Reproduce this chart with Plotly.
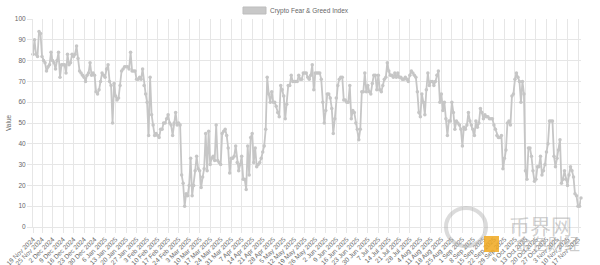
import pandas as pd
import plotly.graph_objects as go

# ---- data ----
series_name = "Crypto Fear & Greed Index"
start_date = "2024-11-19"
fear_greed_values = [
    83, 90, 83, 82, 94, 93, 82, 80, 79, 75,
    77, 78, 84, 80, 79, 76, 80, 84, 72, 78,
    78, 78, 74, 83, 78, 79, 83, 82, 83, 87,
    81, 75, 74, 73, 72, 70, 73, 74, 79, 73,
    74, 73, 65, 64, 66, 70, 74, 73, 72, 76,
    78, 70, 68, 50, 69, 63, 61, 62, 68, 75,
    76, 77, 77, 77, 76, 84, 75, 75, 75, 71,
    71, 72, 71, 76, 68, 64, 60, 44, 72, 54,
    49, 44, 45, 44, 43, 47, 47, 50, 50, 52,
    54, 50, 49, 44, 50, 55, 49, 50, 49, 25,
    21, 10, 16, 15, 20, 33, 15, 20, 27, 34,
    28, 27, 19, 24, 28, 45, 27, 46, 30, 33,
    34, 32, 49, 32, 31, 30, 45, 46, 47, 44,
    38, 26, 33, 33, 34, 39, 31, 27, 30, 34,
    23, 23, 18, 39, 25, 43, 45, 31, 38, 29,
    30, 31, 33, 36, 39, 47, 72, 64, 60, 65,
    60, 60, 58, 55, 53, 68, 66, 63, 52, 59,
    68, 68, 73, 70, 70, 70, 70, 73, 71, 71,
    74, 74, 74, 72, 71, 73, 78, 66, 74, 74,
    74, 74, 71, 60, 50, 56, 64, 64, 62, 57,
    45, 52, 62, 68, 71, 72, 72, 61, 61, 60,
    60, 68, 52, 56, 55, 50, 47, 42, 47, 65,
    65, 74, 65, 68, 65, 64, 69, 73, 73, 66,
    73, 66, 65, 68, 71, 72, 79, 75, 73, 73,
    72, 74, 72, 74, 72, 72, 71, 71, 72, 71,
    70, 73, 75, 74, 73, 72, 65, 55, 53, 64,
    60, 54, 66, 74, 68, 70, 70, 68, 70, 73,
    75, 60, 64, 56, 60, 52, 44, 51, 51, 60,
    55, 47, 51, 50, 49, 47, 39, 48, 47, 49,
    55, 51, 49, 47, 44, 51, 48, 50, 57, 55,
    52, 54, 53, 53, 52, 52, 52, 49, 47, 44,
    43, 43, 44, 28, 33, 37, 50, 51, 49, 63,
    64, 71, 74, 72, 70, 60, 70, 64, 27, 23,
    38, 38, 34, 27, 22, 23, 29, 29, 34, 25,
    27, 30, 36, 40, 51, 51, 51, 34, 29, 33,
    37, 42, 21, 23, 27, 23, 20, 25, 29, 27,
    24, 16, 15, 10, 10, 14,
]
y_ticks = [0, 10, 20, 30, 40, 50, 60, 70, 80, 90, 100]
y_title = "Value"

dates = pd.date_range(start_date, periods=len(fear_greed_values), freq="D")
tick_dates = [dates[0]] + [d for d in dates[1:] if d.weekday() == 0]
tick_text = [f"{d.day} {d.strftime('%b %Y')}" for d in tick_dates]

LINE = "#c6c6c6"
GRID = "#e6e6e6"
TXT = "#666666"
FONT = "Liberation Sans, Arial, sans-serif"

fig = go.Figure()
fig.add_trace(go.Scatter(
    x=dates, y=fear_greed_values, mode="lines+markers", name=series_name,
    line=dict(color=LINE, width=1.8),
    marker=dict(color=LINE, size=3.5),
    cliponaxis=False, showlegend=False,
))

L, R, T, B = 33, 19, 19, 38
W, H = 600, 265
pw, ph = W - L - R, H - T - B

def px(x):
    return (x - L) / pw

def py(y):
    return (H - B - y) / ph

fig.update_layout(
    width=W, height=H,
    margin=dict(l=L, r=R, t=T, b=B, autoexpand=False),
    paper_bgcolor="white", plot_bgcolor="white",
    font=dict(family=FONT, size=6.5, color=TXT),
    xaxis=dict(
        range=[dates[0], dates[-1]],
        tickmode="array", tickvals=tick_dates, ticktext=tick_text,
        tickangle=-45, showgrid=True, gridcolor=GRID, gridwidth=1,
        ticks="outside", ticklen=5, tickcolor=GRID,
        showline=True, linecolor=GRID, zeroline=False,
        tickfont=dict(size=6.5, color=TXT), automargin=False,
    ),
    yaxis=dict(
        range=[0, 100], tickmode="array", tickvals=y_ticks,
        showgrid=True, gridcolor=GRID, gridwidth=1,
        ticks="outside", ticklen=5, tickcolor=GRID,
        showline=True, linecolor=GRID, zeroline=False,
        tickfont=dict(size=6.5, color=TXT), automargin=False,
    ),
)

shapes = [
    # legend swatch
    dict(type="rect", xref="paper", yref="paper",
         x0=px(243), x1=px(266), y0=py(14), y1=py(7),
         fillcolor="#c8c8c8", line=dict(color="#bdbdbd", width=1)),
    # watermark logo circle
    dict(type="circle", xref="paper", yref="paper",
         x0=px(446), x1=px(486), y0=py(246), y1=py(208),
         fillcolor="rgba(0,0,0,0)", line=dict(color="rgba(175,175,175,0.45)", width=4)),
    dict(type="rect", xref="paper", yref="paper",
         x0=px(484), x1=px(499), y0=py(252), y1=py(236),
         fillcolor="rgba(240,168,30,0.85)", line=dict(width=0)),
]
annotations = [
    dict(text=series_name, xref="paper", yref="paper", x=px(268), y=py(10.5),
         xanchor="left", yanchor="middle", showarrow=False,
         font=dict(size=6.5, color=TXT, family=FONT)),
    dict(text=y_title, xref="paper", yref="paper", x=px(8), y=py(123),
         xanchor="center", yanchor="middle", textangle=-90, showarrow=False,
         font=dict(size=6.5, color=TXT, family=FONT)),
    dict(text="币界网", xref="paper", yref="paper", x=px(540), y=py(225),
         xanchor="center", yanchor="middle", showarrow=False,
         font=dict(size=21, color="rgba(150,150,150,0.45)", family="Noto Sans CJK SC")),
    dict(text="金色财经", xref="paper", yref="paper", x=px(548), y=py(243),
         xanchor="center", yanchor="middle", showarrow=False,
         font=dict(size=16, color="rgba(160,160,160,0.55)", family="Noto Sans CJK SC")),
]
fig.update_layout(shapes=shapes, annotations=annotations)

fig.write_html("out.html")
